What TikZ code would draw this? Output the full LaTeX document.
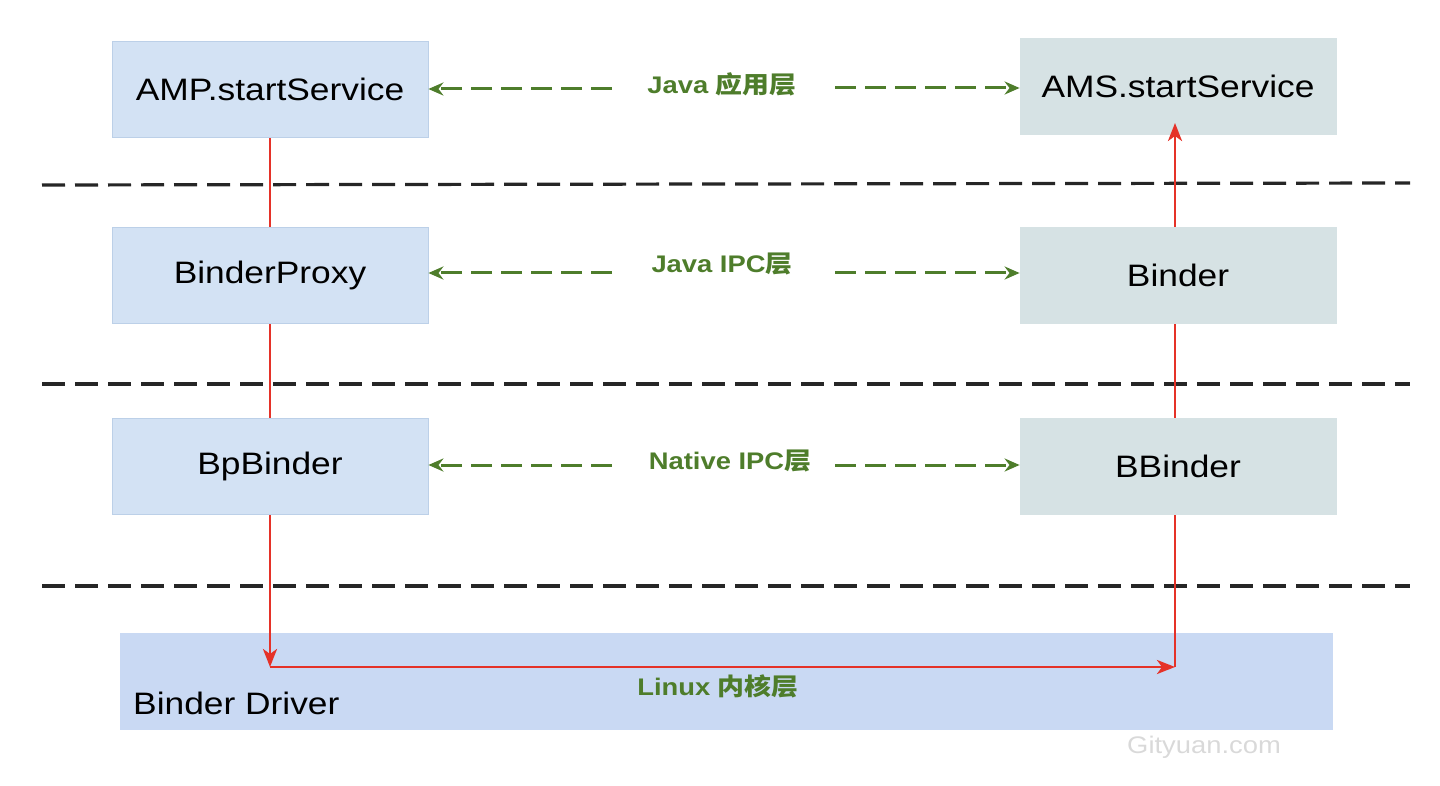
\documentclass[tikz,border=0pt]{standalone}
\usepackage{fontspec}
\setmainfont{Liberation Sans}[FakeStretch=1.14]
\newfontfamily\cjk{Noto Sans CJK SC}[FakeStretch=1.12]
\usetikzlibrary{arrows.meta,backgrounds}
\definecolor{lbfill}{HTML}{D3E2F4}
\definecolor{lbdraw}{HTML}{BCD0E8}
\definecolor{rbfill}{HTML}{D6E2E4}
\definecolor{drvfill}{HTML}{C9D9F3}
\definecolor{gtxt}{HTML}{4E7D2B}
\definecolor{redl}{HTML}{E53228}
\definecolor{wmark}{HTML}{D9D9D9}
\begin{document}
\begin{tikzpicture}[x=1pt,y=-1pt,
  leftbox/.style={draw=lbdraw,line width=0.8pt,fill=lbfill,minimum width=316pt,minimum height=96pt,inner sep=0pt,font=\fontsize{31}{37}\selectfont},
  rightbox/.style={draw=rbfill,line width=0.8pt,fill=rbfill,minimum width=316pt,minimum height=96pt,inner sep=0pt,font=\fontsize{31}{37}\selectfont},
  layerlabel/.style={text=gtxt,font=\fontsize{24}{29}\selectfont\bfseries,inner sep=0pt},
  garrow/.style={draw=gtxt,line width=3pt,dash pattern=on 21pt off 9pt,-{Stealth[length=15pt,width=13pt]}},
  sepline/.style={draw=black!85,line width=3.2pt,dash pattern=on 23pt off 10pt},
  redline/.style={draw=redl,line width=2.8pt},
  redarrow/.style={redline,-{Stealth[length=18pt,width=14pt,inset=5pt]}}
]
\useasboundingbox (0,0) rectangle (1440,786);

% boxes
\node[leftbox] (amp) at (270,89) {AMP.startService};
\node[rightbox] (ams) at (1178,86) {AMS.startService};
\node[leftbox] (bproxy) at (270,275) {BinderProxy};
\node[rightbox] (binder) at (1178,275) {Binder};
\node[leftbox] (bp) at (270,466) {BpBinder};
\node[rightbox] (bb) at (1178,466) {BBinder};
\node[draw=drvfill,fill=drvfill,minimum width=1212pt,minimum height=96pt,inner sep=0pt] (drv) at (726,681) {};
\node[anchor=west,inner sep=0pt,font=\fontsize{31}{37}\selectfont] (drvtxt) at (133,703) {Binder Driver};

% separator lines
\coordinate (s1a) at (42,185); \coordinate (s1b) at (1410,183);
\coordinate (s2a) at (42,384); \coordinate (s2b) at (1410,384);
\coordinate (s3a) at (42,586); \coordinate (s3b) at (1410,586);

% layer labels
\node[layerlabel] (l1) at (722,84) {Java {\cjk\bfseries 应用层}};
\node[layerlabel] (l2) at (722,264) {Java IPC{\cjk\bfseries 层}};
\node[layerlabel] (l3) at (730,461) {Native IPC{\cjk\bfseries 层}};
\node[layerlabel] (l4) at (718,686) {Linux {\cjk\bfseries 内核层}};
\node[text=wmark,inner sep=0pt,font=\fontsize{24}{29}\selectfont] (wm) at (1204,747) {Gityuan.com};

% green dashed arrows
\coordinate (g1a) at (612,89); \coordinate (g1b) at (835,88);
\coordinate (g2a) at (612,273); \coordinate (g2b) at (835,273);
\coordinate (g3a) at (612,465); \coordinate (g3b) at (835,465);
\draw[garrow] (g1a) -- (amp.east |- g1a);
\draw[garrow] (g1b) -- (ams.west |- g1b);
\draw[garrow] (g2a) -- (bproxy.east |- g2a);
\draw[garrow] (g2b) -- (binder.west |- g2b);
\draw[garrow] (g3a) -- (bp.east |- g3a);
\draw[garrow] (g3b) -- (bb.west |- g3b);

% red path
\coordinate (c1) at (270,667);
\coordinate (c2) at (1175,667);
\coordinate (tip) at (1175,123);
\begin{scope}[on background layer]
  \draw[sepline] (s1a) -- (s1b);
  \draw[sepline] (s2a) -- (s2b);
  \draw[sepline] (s3a) -- (s3b);
  \draw[redline] (amp.south) -- (270,640);
  \draw[redline] (c2) -- (1175,230);
\end{scope}
\draw[redarrow] (270,600) -- (c1);
\draw[redarrow] (c1) -- (c2);
\draw[redline] (c2) -- (1175,600);
\draw[redarrow] (binder.north -| tip) -- (tip);
\end{tikzpicture}
\end{document}
